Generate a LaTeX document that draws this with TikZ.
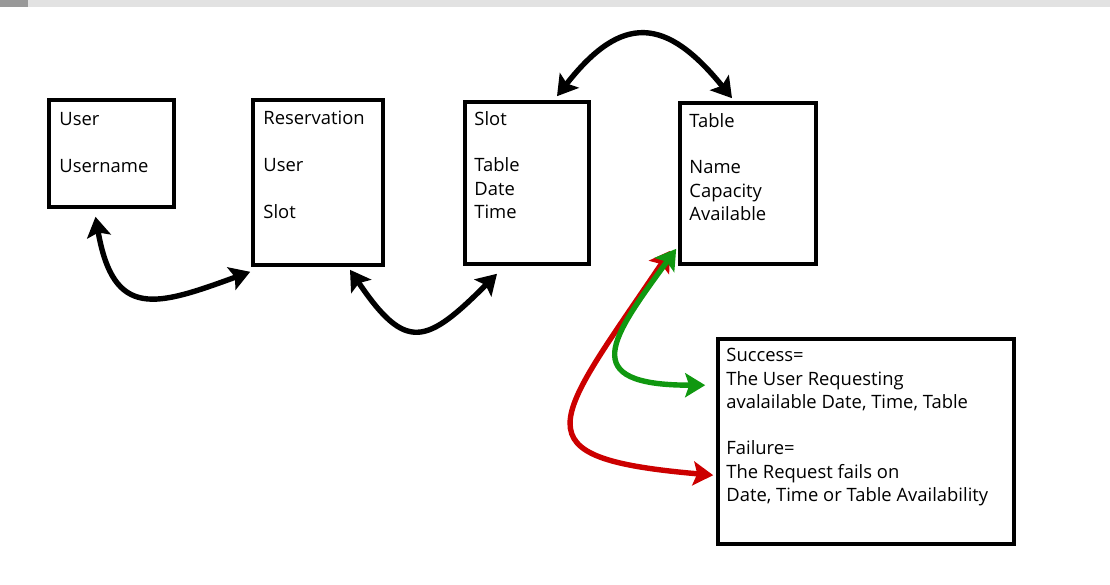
\documentclass[tikz,border=0pt]{standalone}
\usepackage{fontspec}
\setmainfont{Open Sans}
\usetikzlibrary{arrows.meta,calc}

\definecolor{okgreen}{RGB}{16,152,16}
\definecolor{failred}{RGB}{204,0,0}
\definecolor{barlight}{RGB}{226,226,226}
\definecolor{bardark}{RGB}{153,153,153}

\tikzset{
  entity/.style={draw, line width=3.6pt, inner sep=0pt},
  fields/.style={anchor=north west, inner sep=0pt, align=left,
    font=\fontsize{18.4}{23.3}\selectfont},
  link/.style={line width=5.4pt, line cap=round,
    {Stealth[length=20pt,width=24pt,inset=4pt]}-{Stealth[length=20pt,width=24pt,inset=4pt]}},
}

\begin{document}
\begin{tikzpicture}[x=1pt, y=1pt]
  \useasboundingbox (0, 0) rectangle (1110, 585);

  % window strip on top
  \fill[barlight] (0, 578) rectangle (1110, 585);
  \fill[bardark] (0, 578) rectangle (28, 585);

  % entities
  \node[entity, minimum width=125, minimum height=107] (user) at (111.5, 431.5) {};
  \node[entity, minimum width=130, minimum height=165] (reservation) at (318, 402.5) {};
  \node[entity, minimum width=124, minimum height=162] (slot) at (527, 402) {};
  \node[entity, minimum width=136, minimum height=161] (table) at (748, 401.5) {};
  \node[entity, minimum width=296, minimum height=205] (result) at (866, 143.5) {};

  % their fields
  \node[fields] (user-fields) at ([xshift=12, yshift=-14]user.north west)
    {User\\[23.3pt]Username};
  \node[fields] (reservation-fields) at ([xshift=12, yshift=-13]reservation.north west)
    {Reservation\\[23.3pt]User\\[23.3pt]Slot};
  \node[fields] (slot-fields) at ([xshift=11, yshift=-11]slot.north west)
    {Slot\\[23.3pt]Table\\Date\\Time};
  \node[fields] (table-fields) at ([xshift=11, yshift=-12]table.north west)
    {Table\\[23.3pt]Name\\Capacity\\Available};
  \node[fields] (result-fields) at ([xshift=10, yshift=-11]result.north west)
    {Success=\\The User Requesting\\avalailable Date, Time, Table\\[23.3pt]Failure=\\The Request fails on\\Date, Time or Table Availability};

  % relations
  \draw[link] ([xshift=-16, yshift=-8]user.south)
    .. controls +(-80:105) and +(200:100) .. ([xshift=-1, yshift=-5]reservation.south west);
  \draw[link] ([xshift=32, yshift=-3]reservation.south)
    .. controls +(-56:100) and +(225:100) .. ([xshift=-30, yshift=-8]slot.south);
  \draw[link] ([xshift=30, yshift=4]slot.north)
    .. controls +(52:105) and +(129:105) .. ([xshift=-16, yshift=3]table.north);

  % outcome of a request
  \draw[link, failred] ([xshift=-8, yshift=15]table.south west)
    .. controls +(236:210) and +(175:200) .. ([xshift=-3, yshift=-138]result.north west);
  \draw[link, okgreen] ([xshift=-2, yshift=17]table.south west)
    .. controls +(234:110) and +(180:130) .. ([xshift=-11, yshift=-48]result.north west);
\end{tikzpicture}
\end{document}
